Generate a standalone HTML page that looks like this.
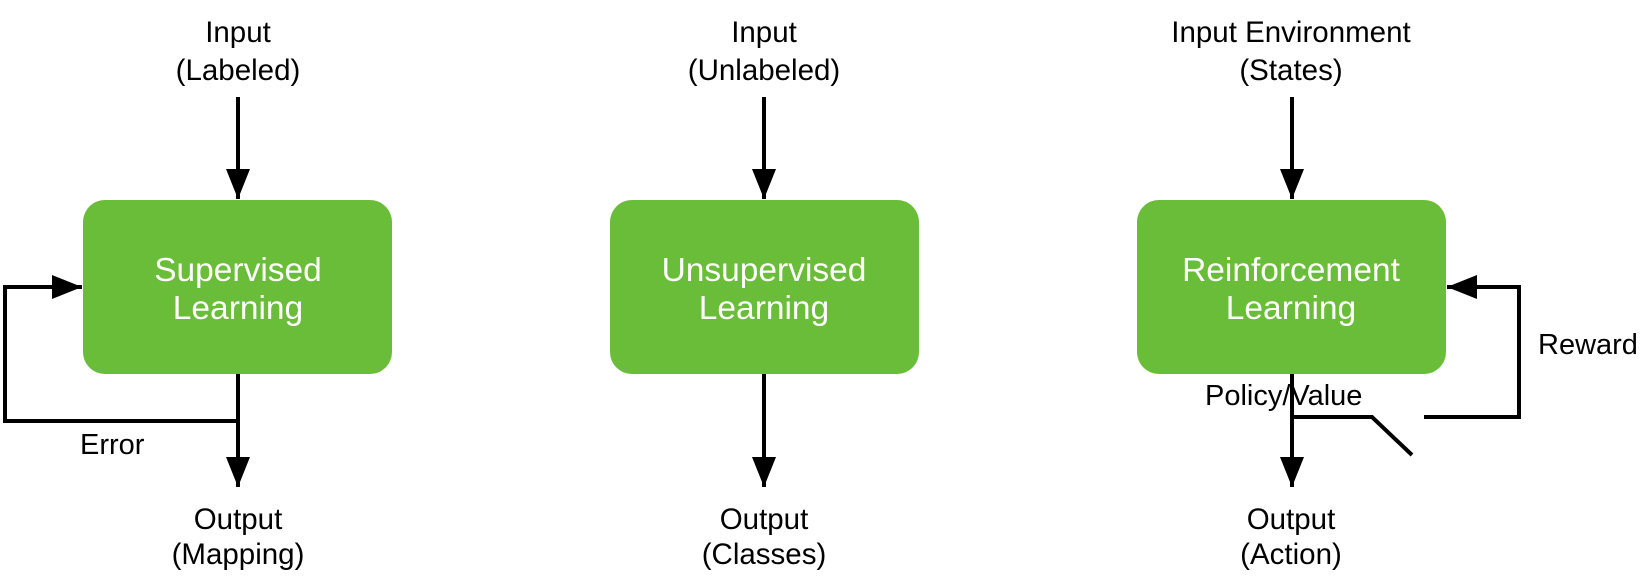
<!DOCTYPE html>
<html><head><meta charset="utf-8"><style>
html,body{margin:0;padding:0;background:#fff;}
svg{display:block;}
text{font-family:"Liberation Sans",sans-serif;}
</style></head><body>
<svg width="1649" height="579" viewBox="0 0 1649 579" xmlns="http://www.w3.org/2000/svg">
<defs>
<marker id="ah" markerWidth="30" markerHeight="24" refX="30" refY="12" orient="auto" markerUnits="userSpaceOnUse" viewBox="0 0 30 24">
<path d="M0,0 L30,12 L0,24 Z" fill="#000"/>
</marker>
</defs>
<g fill="#6abd38">
<rect x="83" y="200" width="309" height="174" rx="22"/>
<rect x="610" y="200" width="309" height="174" rx="22"/>
<rect x="1137" y="200" width="309" height="174" rx="22"/>
</g>
<g font-size="33.5" fill="#fff" text-anchor="middle">
<text x="238" y="281">Supervised</text><text x="238" y="319">Learning</text>
<text x="764" y="281">Unsupervised</text><text x="764" y="319">Learning</text>
<text x="1291" y="281">Reinforcement</text><text x="1291" y="319">Learning</text>
</g>
<g font-size="29.5" fill="#000" text-anchor="middle">
<text x="238" y="42">Input</text><text x="238" y="80">(Labeled)</text>
<text x="764" y="42">Input</text><text x="764" y="80">(Unlabeled)</text>
<text x="1291" y="42">Input Environment</text><text x="1291" y="80">(States)</text>
<text x="238" y="529">Output</text><text x="238" y="564">(Mapping)</text>
<text x="764" y="529">Output</text><text x="764" y="564">(Classes)</text>
<text x="1291" y="529">Output</text><text x="1291" y="564">(Action)</text>
</g>
<g font-size="29" fill="#000">
<text x="80" y="454">Error</text>
<text x="1538" y="354">Reward</text>
<text x="1205" y="405">Policy/Value</text>
</g>
<g stroke="#000" stroke-width="4" fill="none">
<line x1="238" y1="97" x2="238" y2="199" marker-end="url(#ah)"/>
<line x1="764" y1="97" x2="764" y2="199" marker-end="url(#ah)"/>
<line x1="1292" y1="97" x2="1292" y2="199" marker-end="url(#ah)"/>
<line x1="238" y1="374" x2="238" y2="487" marker-end="url(#ah)"/>
<line x1="764" y1="374" x2="764" y2="487" marker-end="url(#ah)"/>
<line x1="1292" y1="374" x2="1292" y2="487" marker-end="url(#ah)"/>
<polyline points="238,421 5,421 5,287 82,287" marker-end="url(#ah)"/>
<polyline points="1292,417 1372,417 1412,455"/>
<polyline points="1424,417 1519,417 1519,287 1447,287" marker-end="url(#ah)"/>
</g>
</svg>
</body></html>
